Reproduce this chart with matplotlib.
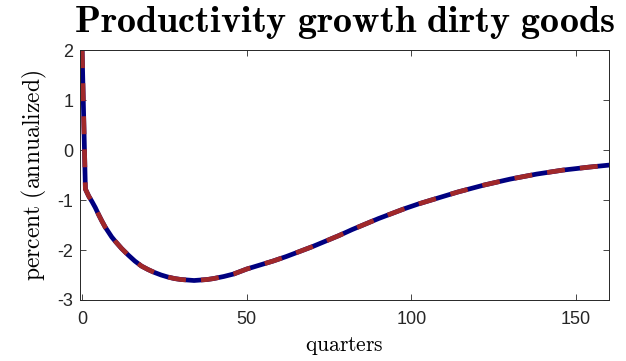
import matplotlib
matplotlib.use("Agg")
import matplotlib.pyplot as plt

# quarterly response of dirty-goods productivity growth (percent, annualized)
quarters = [0, 1, 2, 3, 4, 5, 6, 7, 8, 9, 10, 12, 14, 16, 18, 20, 22, 24, 26,
            28, 30, 32, 34, 36, 38, 40, 43, 46, 50, 54, 58, 62, 66, 70, 74, 78,
            82, 86, 90, 94, 98, 102, 106, 110, 114, 118, 122, 126, 130, 134,
            138, 142, 146, 150, 154, 157, 160]
growth_model = [2.0, -0.78, -0.92, -1.03, -1.15, -1.29, -1.42, -1.54, -1.64,
                -1.74, -1.82, -1.97, -2.1, -2.22, -2.32, -2.39, -2.45, -2.5,
                -2.54, -2.57, -2.59, -2.6, -2.61, -2.6, -2.59, -2.57, -2.53,
                -2.48, -2.38, -2.3, -2.22, -2.13, -2.03, -1.93, -1.82, -1.71,
                -1.59, -1.48, -1.37, -1.27, -1.17, -1.08, -1.0, -0.92, -0.84,
                -0.77, -0.7, -0.64, -0.58, -0.53, -0.48, -0.44, -0.4, -0.37,
                -0.34, -0.32, -0.3]
growth_alt = list(growth_model)

xticks = [0, 50, 100, 150]
yticks = [-3, -2, -1, 0, 1, 2]

plt.rcParams['mathtext.fontset'] = 'cm'
plt.rcParams['axes.unicode_minus'] = False
plt.rcParams['font.family'] = ['Liberation Sans', 'DejaVu Sans']

fig = plt.figure(figsize=(6.26, 3.61), dpi=100)
ax = fig.add_axes([0.128, 0.169, 0.845, 0.692])

ax.plot(quarters, growth_model, color='#000080', lw=3.4,
        solid_joinstyle='round')
ax.plot(quarters, growth_alt, color='#a0282a', lw=3.4, dashes=(3.8, 3.2),
        dash_joinstyle='round')

ax.set_xlim(-0.6, 160)
ax.set_ylim(-3, 2)
ax.set_xticks(xticks)
ax.set_yticks(yticks)
ax.tick_params(direction='in', length=4, width=0.6, colors='#262626',
               labelsize=13, top=True, right=True, pad=5)
ax.tick_params(axis='x', pad=8)
for s in ax.spines.values():
    s.set_linewidth(0.7)
    s.set_color('#262626')

ax.set_title(r'$\mathbf{Productivity\ growth\ dirty\ goods}$', fontsize=27.5, pad=13)
ax.set_xlabel(r'$\mathrm{quarters}$', fontsize=15.5, labelpad=5)
ax.set_ylabel(r'$\mathrm{percent\ (annualized)}$', fontsize=17, labelpad=6)

fig.savefig('out.png', dpi=100)
